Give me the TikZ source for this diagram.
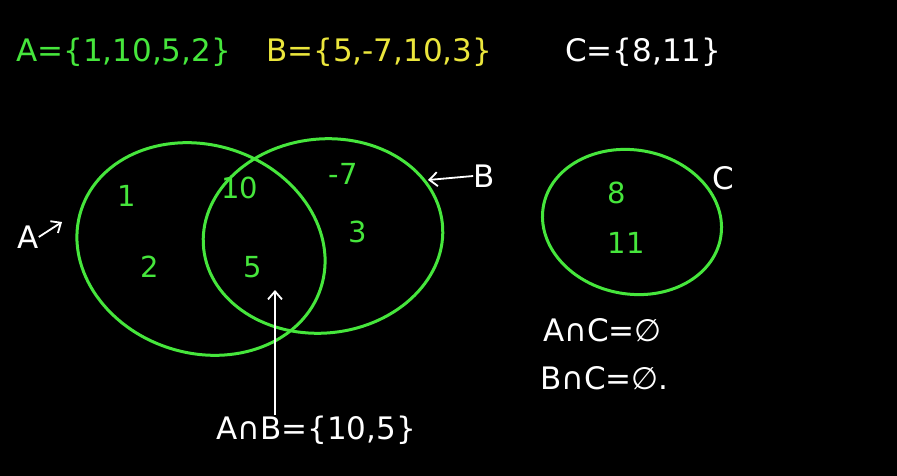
\documentclass[tikz,border=0pt]{standalone}
\usepackage{fontspec}
\setmainfont{DejaVu Sans}
\usetikzlibrary{arrows.meta}
\begin{document}
\begin{tikzpicture}[x=1pt,y=-1pt,
  setline/.style={draw=setgreen,line width=3pt},
  lbl/.style={inner sep=0pt,font=\fontsize{31}{34}\selectfont},
  num/.style={inner sep=0pt,text=setgreen,font=\fontsize{29}{32}\selectfont},
  pointer/.style={draw=white,line width=1.8pt,-{Straight Barb[length=8pt,width=14pt]}}]
\definecolor{setgreen}{RGB}{70,230,60}
\definecolor{setyellow}{RGB}{235,230,60}
\fill[black] (0,0) rectangle (897,476);
\useasboundingbox (0,0) rectangle (897,476);
% top definitions
\node[lbl,text=setgreen,anchor=west] (defA) at (16,52) {A=\{1,10,5,2\}};
\node[lbl,text=setyellow,anchor=west] (defB) at (266,52) {B=\{5,-7,10,3\}};
\node[lbl,text=white,anchor=west] (defC) at (565,52) {C=\{8,11\}};
% sets
\draw[setline,rotate around={-18:(201,249)}] (201,249) ellipse [x radius=126, y radius=104];
\draw[setline,rotate around={6:(323,236)}] (323,236) ellipse [x radius=120, y radius=97];
\draw[setline,rotate around={-10:(632,222)}] (632,222) ellipse [x radius=90, y radius=72];
% elements
\node[num] (n1) at (127,196) {1};
\node[num] (n10) at (240,188) {10};
\node[num] (nm7) at (343,174) {-7};
\node[num] (n2) at (150,267) {2};
\node[num] (n5) at (253,267) {5};
\node[num] (n3) at (358,232) {3};
\node[num] (n8) at (617,193) {8};
\node[num] (n11) at (626,243) {11};
% labels
\node[lbl,text=white] (labA) at (28,237) {A};
\coordinate (tipA) at (62,222);
\draw[pointer] (labA.east) -- (tipA);
\node[lbl,text=white] (labB) at (484,176) {B};
\coordinate (tipB) at (428,180);
\draw[pointer] (labB.west) -- (tipB);
\node[lbl,text=white] (labC) at (723,178) {C};
% intersection
\node[lbl,text=white,anchor=west] (ab) at (216,430) {A∩B=\{10,5\}};
\coordinate (tipAB) at (275,290);
\draw[pointer] (ab.north -| tipAB) -- (tipAB);
\node[lbl,text=white,anchor=west] (ac) at (543,330) {A∩C=∅};
\node[lbl,text=white,anchor=west] (bc) at (540,378) {B∩C=∅.};
\end{tikzpicture}
\end{document}
